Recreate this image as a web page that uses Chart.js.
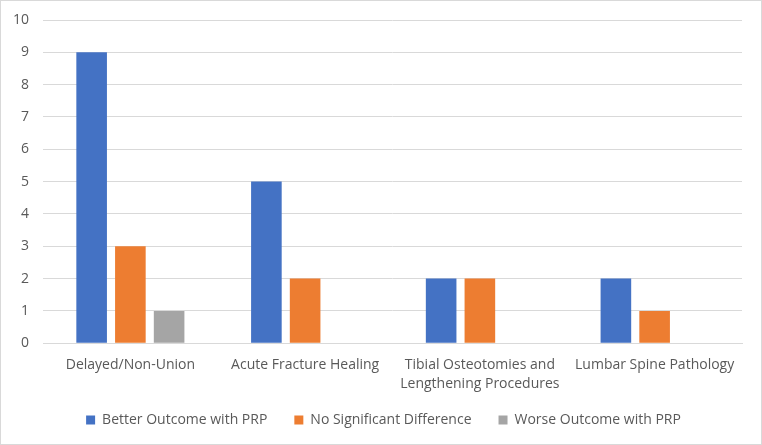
<!DOCTYPE html>
<html lang="en">
<head>
<meta charset="UTF-8">
<title>PRP outcomes</title>
<script src="https://cdn.jsdelivr.net/npm/chart.js"></script>
<style>
    body { margin: 0; background: #fff; }
    #wrap { width: 760px; height: 443px; border: 1px solid #d9d9d9; }
</style>
</head>
<body>
<div id="wrap"><canvas id="myChart" width="760" height="443"></canvas></div>
<script>
    // 데이터
    const categories = [
        'Delayed/Non-Union',
        'Acute Fracture Healing',
        ['Tibial Osteotomies and', 'Lengthening Procedures'],
        'Lumbar Spine Pathology'
    ];
    const betterOutcome = [9, 5, 2, 2];
    const noDifference = [3, 2, 2, 1];
    const worseOutcome = [1, null, null, null];
    const yTicks = [0, 1, 2, 3, 4, 5, 6, 7, 8, 9, 10];

    const textColor = '#595959';
    const gridColor = '#d9d9d9';
    const family = "'Open Sans', 'Liberation Sans', sans-serif";
    const font = { family: family, size: 14, lineHeight: 1.35 };

    const ctx = document.getElementById('myChart').getContext('2d');
    const myChart = new Chart(ctx, {
        type: 'bar',
        data: {
            labels: categories,
            datasets: [
                { label: 'Better Outcome with PRP', data: betterOutcome, backgroundColor: '#4472c4' },
                { label: 'No Significant Difference', data: noDifference, backgroundColor: '#ed7d31' },
                { label: 'Worse Outcome with PRP', data: worseOutcome, backgroundColor: '#a5a5a5' }
            ]
        },
        options: {
            responsive: false,
            animation: false,
            categoryPercentage: 0.665,
            barPercentage: 0.79,
            layout: { padding: { top: 19, right: 6, left: 11, bottom: 7 } },
            plugins: {
                tooltip: { enabled: false },
                legend: {
                    position: 'bottom',
                    // 빈 제목에 음수 여백을 줘서 범례 위쪽 간격만 줄임
                    title: { display: true, text: '', font: { size: 1, lineHeight: 1 }, padding: { top: -10, bottom: 0 } },
                    labels: {
                        color: textColor,
                        font: font,
                        boxWidth: 9,
                        boxHeight: 9,
                        padding: 27
                    }
                }
            },
            scales: {
                x: {
                    grid: { display: false, drawTicks: false },
                    border: { color: gridColor },
                    ticks: { color: textColor, font: font, padding: 12, maxRotation: 0, autoSkip: false },
                    afterFit: scale => {
                        scale.height -= 10;
                        scale.paddingRight = 19; // 플롯 오른쪽 여백
                    }
                },
                y: {
                    min: 0,
                    max: 10,
                    afterBuildTicks: axis => { axis.ticks = yTicks.map(v => ({ value: v })); },
                    grid: { color: gridColor, drawTicks: false },
                    border: { display: false },
                    ticks: { color: textColor, font: font, padding: 14 },
                    afterFit: scale => {
                        scale.width = 31;
                        scale.paddingTop = 0;
                    }
                }
            }
        }
    });
</script>
</body>
</html>
